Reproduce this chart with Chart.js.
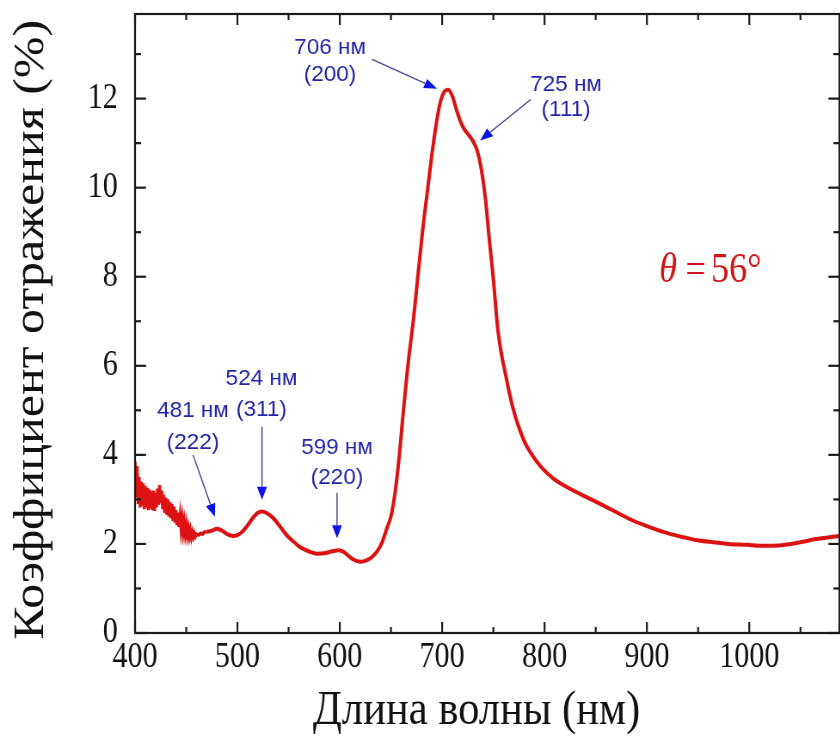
<!DOCTYPE html>
<html>
<head>
<meta charset="utf-8">
<script src="https://cdn.jsdelivr.net/npm/chart.js@4/dist/chart.umd.min.js"></script>
<style>
  html, body { margin: 0; padding: 0; overflow: hidden; background: #fff; }
  /* la figure d'origine est un peu écrasée horizontalement */
  #wrap { width: 977px; height: 749px; transform: scaleX(0.86); transform-origin: 0 0; }
</style>
</head>
<body>
<div id="wrap"><canvas id="spectre" width="977" height="749"></canvas></div>
<script>
const SX = 0.86;   // facteur d'écrasement horizontal

// début bruité du spectre (nm / %)
const noisyWavelengths = [
  400, 401, 402, 403, 404, 405, 406, 407, 408, 409, 410, 411, 412, 413, 414, 415, 416, 417, 418, 419,
  420, 421, 422, 423, 424, 425, 426, 427, 428, 429, 430, 431, 432, 433, 434, 435, 436, 437, 438, 439,
  440, 441, 442, 443, 444, 445, 446, 447, 448, 449, 450, 451, 452, 453, 454, 455, 456, 457, 458, 459,
  460, 462, 464, 466, 468, 470
];
const noisyReflectance = [
  3.85, 3.05, 3.75, 2.90, 3.50, 2.82, 3.40, 2.86, 3.36, 2.78, 3.30, 2.82, 3.26, 2.76, 3.22, 2.80, 3.18, 2.76, 3.20, 2.74,
  3.14, 2.82, 3.24, 2.88, 3.32, 2.92, 3.20, 2.78, 3.10, 2.70, 3.04, 2.66, 3.00, 2.62, 2.94, 2.58, 2.90, 2.52, 2.84, 2.48,
  2.76, 2.42, 2.70, 2.38, 2.62, 2.33, 2.55, 2.28, 2.48, 2.24, 2.42, 2.20, 2.35, 2.17, 2.30, 2.15, 2.26, 2.16, 2.24, 2.17,
  2.22, 2.20, 2.24, 2.22, 2.27, 2.27
];

// suite lisse du spectre : longueur d'onde (nm)
const wavelengths = [
  470, 475, 480, 485, 490, 496, 500, 505, 510, 515, 520, 524, 528, 535, 542, 548, 555, 561, 570, 578,
  585, 592, 599, 604, 610, 616, 621, 626, 631, 636, 641, 646, 650, 654, 658, 662, 667, 672, 676,
  681, 686, 690, 694, 698, 702, 706, 710, 714, 718, 722, 726, 730, 734, 738, 742, 746, 750, 754,
  758, 762, 766, 771, 776, 782, 789, 797, 808, 820, 835, 850, 867, 883, 900, 916, 932, 948, 964,
  980, 998, 1010, 1023, 1035, 1046, 1055, 1062, 1075, 1088
];
// coefficient de réflexion (%)
const reflectance = [
  2.27, 2.30, 2.34, 2.30, 2.22, 2.18, 2.20, 2.28, 2.42, 2.58, 2.70, 2.73, 2.70, 2.58, 2.38, 2.20, 2.05, 1.93, 1.83, 1.78,
  1.79, 1.83, 1.86, 1.82, 1.70, 1.62, 1.60, 1.63, 1.70, 1.82, 2.02, 2.35, 2.62, 3.15, 3.95, 4.95, 6.10, 7.05, 7.95,
  9.05, 10.0, 10.75, 11.4, 11.9, 12.15, 12.2, 12.05, 11.75, 11.48, 11.3, 11.18, 11.05, 10.85, 10.45, 9.80, 8.85, 7.95, 6.90,
  6.25, 5.80, 5.35, 4.90, 4.55, 4.22, 3.96, 3.72, 3.48, 3.30, 3.12, 2.95, 2.75, 2.56, 2.40, 2.27, 2.17, 2.09, 2.04,
  2.00, 1.98, 1.96, 1.96, 1.98, 2.02, 2.06, 2.10, 2.14, 2.18
];

const xTicks = [400, 500, 600, 700, 800, 900, 1000];
const yTicks = [0, 2, 4, 6, 8, 10, 12];

// pics annotés
const peakNames = ["706 нм", "725 нм", "524 нм", "481 нм", "599 нм"];
const peakPlanes = ["(200)", "(111)", "(311)", "(222)", "(220)"];

// placement des annotations (en unités des axes)
const annotPos = [
  { tx: 590.5, t1: 13.15, t2: 12.54, from: [631.5, 12.88], to: [695, 12.22] },
  { tx: 821, t1: 12.31, t2: 11.75, from: [786.5, 11.98], to: [737, 11.06] },
  { tx: 523.5, t1: 5.71, t2: 5.01, from: [524, 4.63], to: [524, 2.99] },
  { tx: 456.6, t1: 4.99, t2: 4.27, from: [456.6, 4.0], to: [478, 2.61] },
  { tx: 597.3, t1: 4.16, t2: 3.48, from: [597.3, 3.15], to: [597.3, 2.13] }
];

const ctx = document.getElementById('spectre');

function seg(c, x1, y1, x2, y2) {
  c.beginPath(); c.moveTo(x1, y1); c.lineTo(x2, y2); c.stroke();
}

// cadre + graduations vers l'intérieur sur les 4 côtés
const cadre = {
  id: 'cadre',
  afterDatasetsDraw(chart) {
    const { ctx: c, chartArea: a, scales: { x, y } } = chart;
    c.save();
    c.strokeStyle = '#1b1b1b';
    c.lineWidth = 2.2;
    c.strokeRect(a.left, a.top, a.right - a.left, a.bottom - a.top);
    for (let v = 400; v <= x.max; v += 50) {
      const px = x.getPixelForValue(v);
      const len = v % 100 === 0 ? 11 : 6;
      seg(c, px, a.bottom, px, a.bottom - len);
      seg(c, px, a.top, px, a.top + len);
    }
    for (let v = 0; v <= y.max; v += 1) {
      const py = y.getPixelForValue(v);
      const len = (v % 2 === 0 ? 11 : 6) / SX;
      seg(c, a.left, py, a.left + len, py);
      seg(c, a.right, py, a.right - len, py);
    }
    c.restore();
  }
};

// textes bleus et flèches, plus l'angle
const annotations = {
  id: 'annotations',
  afterDraw(chart) {
    const { ctx: c, scales: { x, y } } = chart;
    c.save();
    c.scale(1 / SX, 1);   // on revient en pixels écran pour ne pas écraser le texte bleu
    c.font = '22.5px "Liberation Sans", Arial, sans-serif';
    c.textAlign = 'center';
    c.textBaseline = 'middle';
    annotPos.forEach((p, i) => {
      const tx = x.getPixelForValue(p.tx) * SX;
      c.fillStyle = '#2424a6';
      c.fillText(peakNames[i], tx, y.getPixelForValue(p.t1));
      c.fillText(peakPlanes[i], tx, y.getPixelForValue(p.t2));
      const x1 = x.getPixelForValue(p.from[0]) * SX, y1 = y.getPixelForValue(p.from[1]);
      const x2 = x.getPixelForValue(p.to[0]) * SX, y2 = y.getPixelForValue(p.to[1]);
      const ang = Math.atan2(y2 - y1, x2 - x1);
      const hl = 13, hw = 5;
      c.strokeStyle = '#4a4a9a';
      c.lineWidth = 1.3;
      seg(c, x1, y1, x2 - hl * Math.cos(ang), y2 - hl * Math.sin(ang));
      c.fillStyle = '#0a14e6';
      c.beginPath();
      c.moveTo(x2, y2);
      c.lineTo(x2 - hl * Math.cos(ang) + hw * Math.sin(ang), y2 - hl * Math.sin(ang) - hw * Math.cos(ang));
      c.lineTo(x2 - hl * Math.cos(ang) - hw * Math.sin(ang), y2 - hl * Math.sin(ang) + hw * Math.cos(ang));
      c.closePath();
      c.fill();
    });
    c.restore();

    // θ = 56°
    c.save();
    c.fillStyle = '#cf1515';
    c.textBaseline = 'alphabetic';
    c.textAlign = 'left';
    let px = x.getPixelForValue(912);
    const py = y.getPixelForValue(7.88);
    c.font = 'italic 42px "Liberation Serif", "Times New Roman", serif';
    c.fillText('θ', px, py);
    px += c.measureText('θ').width + 10;
    c.font = '42px "Liberation Serif", "Times New Roman", serif';
    c.fillText('=', px, py);
    px += c.measureText('=').width + 6;
    c.fillText('56°', px, py);
    c.restore();
  }
};

const rouge = '#dc1111';

const data = {
  datasets: [
    {
      label: 'R bruit',
      data: noisyWavelengths.map((w, i) => ({ x: w, y: noisyReflectance[i] })),
      borderColor: rouge,
      borderWidth: 3.5,
      pointRadius: 0,
      tension: 0,
      fill: false
    },
    {
      label: 'R',
      data: wavelengths.map((w, i) => ({ x: w, y: reflectance[i] })),
      borderColor: rouge,
      borderWidth: 4,
      pointRadius: 0,
      cubicInterpolationMode: 'monotone',
      fill: false
    }
  ]
};

const serif = '"Liberation Serif", "Times New Roman", serif';

const config = {
  type: 'line',
  data: data,
  options: {
    responsive: false,
    animation: false,
    layout: { padding: { top: 14, right: 1, left: 0, bottom: 0 } },
    plugins: { legend: { display: false }, tooltip: { enabled: false } },
    scales: {
      x: {
        type: 'linear',
        min: 400,
        max: 1088,
        afterFit: (s) => { s.height = 116; s.paddingLeft = 0; s.paddingRight = 0; },
        afterBuildTicks: (s) => { s.ticks = xTicks.map(v => ({ value: v })); },
        grid: { display: false, drawTicks: false },
        border: { display: false },
        ticks: { color: '#111', padding: 4, font: { family: serif, size: 35 }, callback: (v) => String(v) },
        title: {
          display: true,
          text: 'Длина волны (нм)\u00a0\u00a0',
          color: '#111',
          padding: { top: 13, bottom: 13 },
          font: { family: serif, size: 49.5, lineHeight: 1 }
        }
      },
      y: {
        min: 0,
        max: 13.9,
        afterFit: (s) => { s.width = 157; s.paddingTop = 0; s.paddingBottom = 0; },
        afterBuildTicks: (s) => { s.ticks = yTicks.map(v => ({ value: v })); },
        grid: { display: false, drawTicks: false },
        border: { display: false },
        ticks: { color: '#111', padding: 20, font: { family: serif, size: 35 }, callback: (v) => String(v) },
        title: {
          display: true,
          text: 'Коэффициент отражения (%)\u00a0',
          color: '#111',
          padding: { top: 12, bottom: 12 },
          font: { family: serif, size: 50, lineHeight: 1 }
        }
      }
    }
  },
  plugins: [cadre, annotations]
};

const myChart = new Chart(ctx, config);
</script>
</body>
</html>
